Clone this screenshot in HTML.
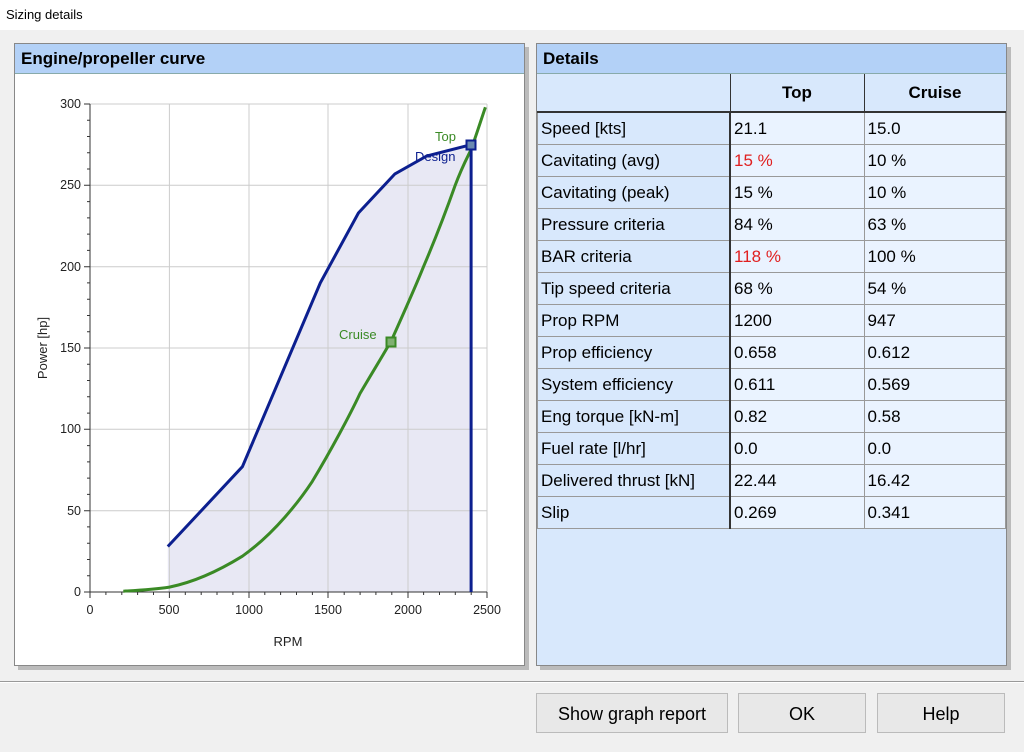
<!DOCTYPE html>
<html><head><style>
body{margin:0;width:1024px;height:752px;background:#f0f0f0;font-family:"Liberation Sans",sans-serif;position:relative;overflow:hidden}
.title{position:absolute;left:0;top:0;width:1024px;height:30px;background:#fff;font-size:13px;line-height:30px;padding-left:6px;box-sizing:border-box}
.panel{position:absolute;border:1px solid #888;box-shadow:4px 4px 0 #bbb}
.hdr{height:29px;background:#b3d1f7;border-bottom:1px solid #8aa;font-weight:bold;font-size:17px;line-height:29px;padding-left:6px}
table{border-collapse:collapse;font-size:17px;table-layout:fixed}
td{height:31px;border:1px solid #999;padding:0 3px;background:#eaf3ff}
td.l{background:#d8e8fc;border-right:2px solid #333}
th{height:35px;background:#d8e8fc;border-right:1px solid #333;border-bottom:2px solid #333;font-size:17px}
.btn{position:absolute;top:693px;height:40px;background:#e8e8e8;border:1px solid #bbb;font-size:18px;text-align:center;line-height:40px;box-sizing:border-box}
</style></head><body>
<div class="title">Sizing details</div>
<div style="position:absolute;left:0;top:681px;width:1024px;border-top:1px solid #999;border-bottom:1px solid #fff"></div>
<div class="panel" style="left:14px;top:43px;width:509px;height:621px;background:#fff"><div class="hdr">Engine/propeller curve</div></div>
<div class="panel" style="left:536px;top:43px;width:469px;height:621px;background:#d8e8fc"><div class="hdr">Details</div>
<table style="width:469px">
<tr><th style="width:190px"></th><th style="width:131px">Top</th><th style="border-right:none">Cruise</th></tr>
<tr><td class="l">Speed [kts]</td><td>21.1</td><td>15.0</td></tr>
<tr><td class="l">Cavitating (avg)</td><td style="color:#e02020">15 %</td><td>10 %</td></tr>
<tr><td class="l">Cavitating (peak)</td><td>15 %</td><td>10 %</td></tr>
<tr><td class="l">Pressure criteria</td><td>84 %</td><td>63 %</td></tr>
<tr><td class="l">BAR criteria</td><td style="color:#e02020">118 %</td><td>100 %</td></tr>
<tr><td class="l">Tip speed criteria</td><td>68 %</td><td>54 %</td></tr>
<tr><td class="l">Prop RPM</td><td>1200</td><td>947</td></tr>
<tr><td class="l">Prop efficiency</td><td>0.658</td><td>0.612</td></tr>
<tr><td class="l">System efficiency</td><td>0.611</td><td>0.569</td></tr>
<tr><td class="l">Eng torque [kN-m]</td><td>0.82</td><td>0.58</td></tr>
<tr><td class="l">Fuel rate [l/hr]</td><td>0.0</td><td>0.0</td></tr>
<tr><td class="l">Delivered thrust [kN]</td><td>22.44</td><td>16.42</td></tr>
<tr><td class="l">Slip</td><td>0.269</td><td>0.341</td></tr>
</table></div>
<div class="btn" style="left:536px;width:192px">Show graph report</div>
<div class="btn" style="left:738px;width:128px">OK</div>
<div class="btn" style="left:877px;width:128px">Help</div>
<svg style="position:absolute;left:0;top:0" width="1024" height="752" font-family="Liberation Sans,sans-serif">
<polygon points="167.8,592 167.8,546.5 242.4,466.7 320.3,282.9 358.4,213 394.9,173.9 426.7,156 471.1,144.7 471.1,592" fill="#e8e8f4"/>
<g stroke="#ccc" stroke-width="1">
<line x1="169.4" y1="104" x2="169.4" y2="592"/><line x1="249" y1="104" x2="249" y2="592"/><line x1="328" y1="104" x2="328" y2="592"/><line x1="408" y1="104" x2="408" y2="592"/><line x1="487" y1="104" x2="487" y2="592"/>
<line x1="90" y1="104" x2="487" y2="104"/><line x1="90" y1="185.3" x2="487" y2="185.3"/><line x1="90" y1="266.7" x2="487" y2="266.7"/><line x1="90" y1="348" x2="487" y2="348"/><line x1="90" y1="429.3" x2="487" y2="429.3"/><line x1="90" y1="510.7" x2="487" y2="510.7"/>
</g>
<g stroke="#333" stroke-width="1">
<line x1="90" y1="104" x2="90" y2="592"/><line x1="90" y1="592" x2="487" y2="592"/>
</g>
<path d="M123.3,591.2 C145,590 160,588.5 169.4,587.1 C195,582 220,570 242.4,556.2 C275,533 300,500 312.3,481.4 C330,452 350,415 360,393.5 C375,368 385,352 391.7,339.9 C405,310 415,288 423.5,266.7 C440,228 450,200 455.2,185.3 C462,167 467,158 471.1,149.5 C477,133 482,117 485.4,107.2" fill="none" stroke="#3a8a25" stroke-width="3"/>
<polyline points="167.8,546.5 242.4,466.7 320.3,282.9 358.4,213 394.9,173.9 426.7,156 471.1,144.7 471.1,592" fill="none" stroke="#0c1f8f" stroke-width="3"/>
<rect x="386.5" y="337.5" width="9" height="9" fill="#7fb070" stroke="#3a8a25" stroke-width="2"/>
<rect x="466.5" y="140.5" width="9" height="9" fill="#6a8ab0" stroke="#0c1f8f" stroke-width="2"/>
<text x="435" y="141" font-size="13" fill="#3a8a25">Top</text>
<text x="415" y="161" font-size="13" fill="#0c1f8f">Design</text>
<text x="339" y="339" font-size="13" fill="#3a8a25">Cruise</text>
<g font-size="12.5" fill="#222" text-anchor="end">
<text x="81" y="108">300</text><text x="81" y="189">250</text><text x="81" y="271">200</text><text x="81" y="352">150</text><text x="81" y="433">100</text><text x="81" y="515">50</text><text x="81" y="596">0</text>
</g>
<g font-size="12.5" fill="#222" text-anchor="middle">
<text x="90" y="614">0</text><text x="169" y="614">500</text><text x="249" y="614">1000</text><text x="328" y="614">1500</text><text x="408" y="614">2000</text><text x="487" y="614">2500</text>
</g>
<text x="288" y="646" font-size="13" text-anchor="middle" fill="#222">RPM</text>
<text transform="translate(47,348) rotate(-90)" font-size="13" text-anchor="middle" fill="#222">Power [hp]</text>
<path d="M84,104h6M84,185.3h6M84,266.7h6M84,348h6M84,429.3h6M84,510.7h6M84,592h6M90,592v6M169.4,592v6M249,592v6M328,592v6M408,592v6M487,592v6" stroke="#333"/>
<path d="M87,120.3h3M87,136.5h3M87,152.8h3M87,169h3M87,201.6h3M87,217.9h3M87,234.1h3M87,250.4h3M87,282.9h3M87,299.2h3M87,315.5h3M87,331.7h3M87,364.3h3M87,380.5h3M87,396.8h3M87,413.1h3M87,445.6h3M87,461.9h3M87,478.1h3M87,494.4h3M87,526.9h3M87,543.2h3M87,559.5h3M87,575.7h3M105.9,592v3M121.8,592v3M137.6,592v3M153.5,592v3M185.3,592v3M201.2,592v3M217,592v3M232.9,592v3M264.8,592v3M280.6,592v3M296.5,592v3M312.4,592v3M344.2,592v3M360.1,592v3M375.9,592v3M391.8,592v3M423.6,592v3M439.5,592v3M455.3,592v3M471.2,592v3" stroke="#333"/>
</svg>
</body></html>
